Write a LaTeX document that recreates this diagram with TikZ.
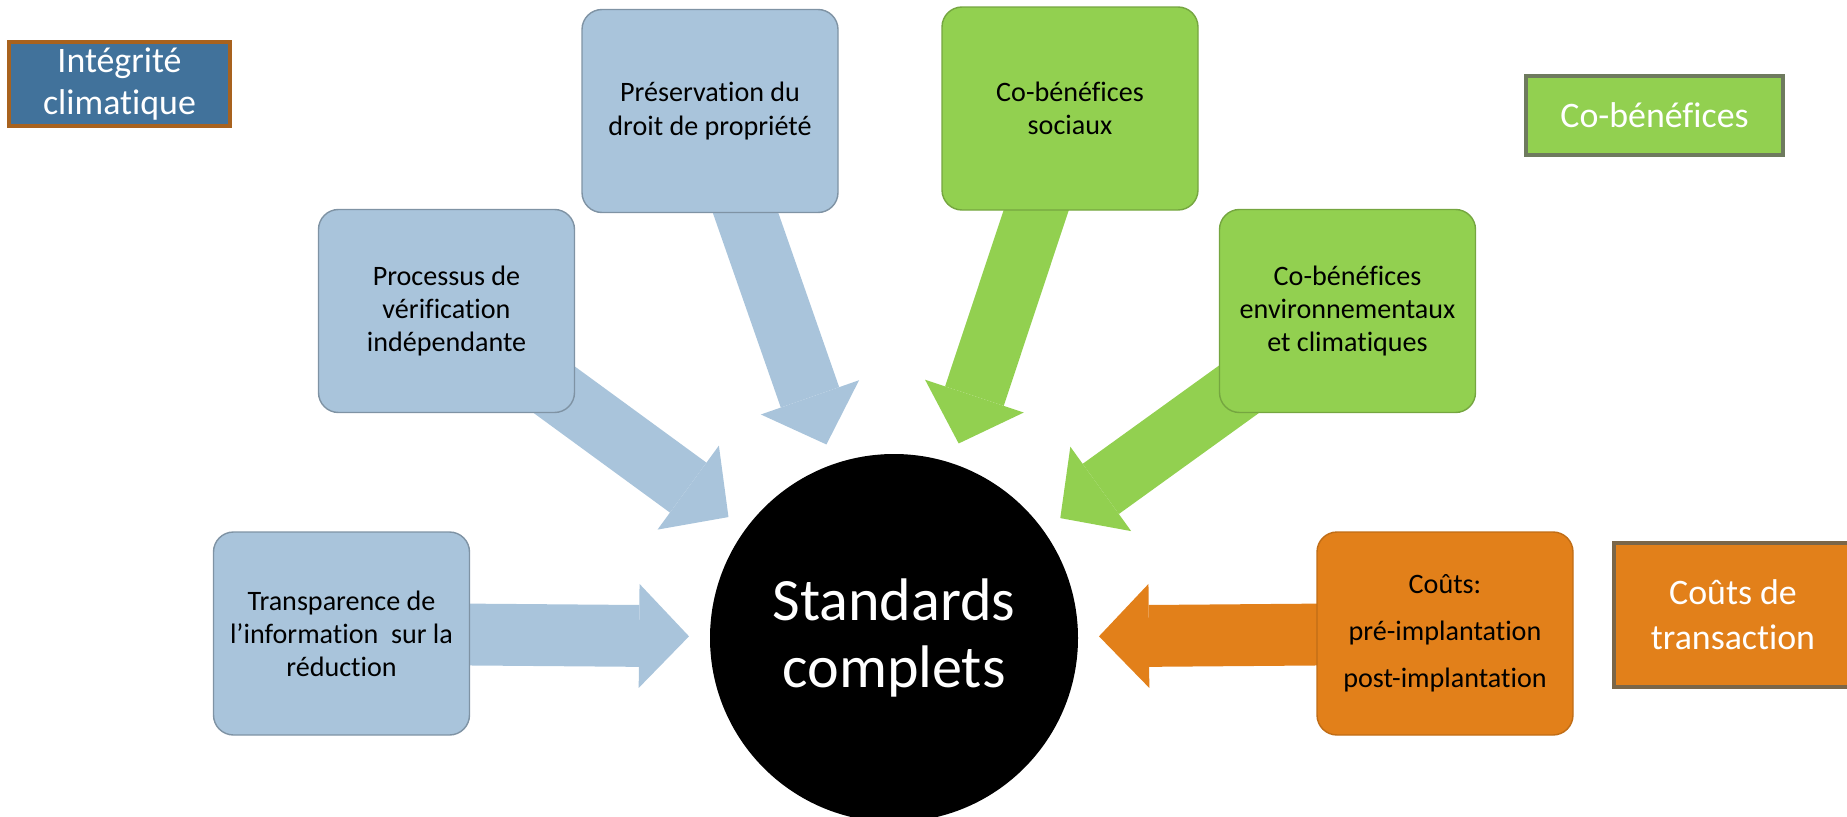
\documentclass[tikz,border=0pt]{standalone}
\usepackage{fontspec}
\setmainfont{Carlito}[Ligatures=NoCommon]
\usepackage{xcolor}
\usepackage{tikz}
\usetikzlibrary{arrows.meta,backgrounds}
\definecolor{paleblue}{HTML}{A9C4DB}
\definecolor{leafgreen}{HTML}{92D050}
\definecolor{amber}{HTML}{E2801A}
\definecolor{steelblue}{HTML}{41729B}
\definecolor{rust}{HTML}{A8621E}
\definecolor{olivegray}{HTML}{6E7A5E}
\definecolor{browngray}{HTML}{7B6648}
\newcommand{\fsz}[2]{\fontsize{#1}{#2}\selectfont}

\begin{document}
\begin{tikzpicture}[
    box/.style={rounded corners=0.2cm, minimum width=2.56cm, minimum height=2.03cm,
        align=center, inner sep=0pt, line width=0.4pt, font=\fsz{8pt}{9.4pt}},
    legend/.style={align=center, inner sep=0pt, line width=1pt, text=white,
        font=\fsz{10.2pt}{12.8pt}},
    feed/.style={line width=17.6pt, shorten >=0.21cm,
        -{Triangle[width=29.6pt,length=14.2pt,line width=0pt]}}
]
    \clip (0,0) rectangle (18.47,8.16);

    % Legend boxes
    \node[legend, fill=steelblue, draw=rust, minimum width=2.21cm, minimum height=0.84cm, font=\fsz{10.2pt}{12pt}] (integ) at (1.195,7.32) {Intégrité\\climatique};
    \node[legend, fill=leafgreen, draw=olivegray, minimum width=2.57cm, minimum height=0.79cm] (cobl) at (16.545,7.005) {Co-bénéfices};
    \node[legend, fill=amber, draw=browngray, minimum width=2.38cm, minimum height=1.44cm] (coutl) at (17.33,2.01) {Coûts de\\transaction};

    % Climate integrity (blue)
    \node[box, fill=paleblue, draw=paleblue!75!black] (pres) at (7.10,7.05) {Préservation du\\droit de propriété};
    \node[box, fill=paleblue, draw=paleblue!75!black] (verif) at (4.465,5.05) {Processus de\\vérification\\indépendante};
    \node[box, fill=paleblue, draw=paleblue!75!black] (transp) at (3.415,1.825) {Transparence de\\l’information\ \ sur la\\réduction};

    % Co-benefits (green)
    \node[box, fill=leafgreen, draw=leafgreen!80!black] (soc) at (10.70,7.075) {Co-bénéfices\\sociaux};
    \node[box, fill=leafgreen, draw=leafgreen!80!black] (env) at (13.475,5.05) {Co-bénéfices\\environnementaux\\et climatiques};

    % Transaction costs (orange)
    \node[box, fill=amber, draw=amber!85!black, font=\fsz{8pt}{13.4pt}] (couts) at (14.45,1.825) {Coûts:\\pré-implantation\\post-implantation};

    % Centre
    \node[circle, fill=black, minimum size=3.68cm, inner sep=0pt, outer sep=0pt, text=white, align=center, font=\fsz{17.1pt}{19.3pt}] (std) at (8.94,1.78) {Standards\\complets};

    % Block arrows into the centre
    \begin{scope}[on background layer]
        \foreach \b in {pres,verif,transp} {
            \draw[feed, paleblue] (\b.center) -- (std);
        }
        \foreach \b in {soc,env} {
            \draw[feed, leafgreen] (\b.center) -- (std);
        }
        \draw[feed, amber] (couts.center) -- (std);
    \end{scope}
\end{tikzpicture}
\end{document}
